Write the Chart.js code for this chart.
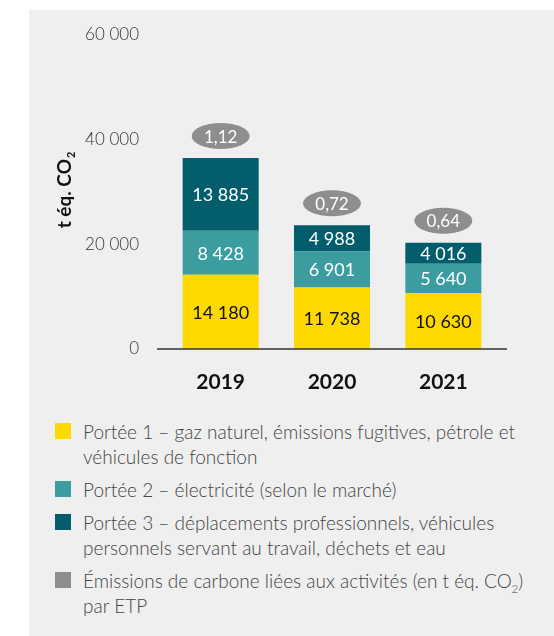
<!DOCTYPE html>
<html>
<head>
<meta charset="utf-8">
<script src="https://cdn.jsdelivr.net/npm/chart.js@4.4.0/dist/chart.umd.min.js"></script>
<style>
  body { margin: 0; background: #fff; font-family: 'Lato', sans-serif; }
  #panel { position: absolute; left: 29px; top: 10px; width: 525px; height: 626px; background: #efefef; }
  #chartBox { position: absolute; left: 0; top: 0; width: 525px; height: 400px; }
  #legend { position: absolute; left: 26px; top: 409px; width: 490px; color: #444; font-size: 19px; font-weight: 300; line-height: 25px; }
  .item { position: relative; padding-left: 28px; margin-bottom: 8px; white-space: nowrap; }
  .sw { position: absolute; left: 0; top: 4px; width: 16px; height: 16px; }
  sub { font-size: 11px; line-height: 0; }
</style>
</head>
<body>
<div id="panel">
  <div id="chartBox"><canvas id="c"></canvas></div>
  <div id="legend"></div>
</div>
<script>
const years = ['2019', '2020', '2021'];
const scope1 = [14180, 11738, 10630];
const scope2 = [8428, 6901, 5640];
const scope3 = [13885, 4988, 4016];
const perFte = ['1,12', '0,72', '0,64'];
const yTicks = [0, 20000, 40000, 60000];

const colors = ['#fdd900', '#3c9da0', '#035d6c'];
const legendItems = [
  { color: '#fdd900', html: 'Portée 1 – gaz naturel, émissions fugitives, pétrole et<br>véhicules de fonction' },
  { color: '#3c9da0', html: 'Portée 2 – électricité (selon le marché)' },
  { color: '#035d6c', html: 'Portée 3 – déplacements professionnels, véhicules<br>personnels servant au travail, déchets et eau' },
  { color: '#8e8e8e', html: 'Émissions de carbone liées aux activités (en t éq. CO<sub>2</sub>)<br>par ETP' }
];

const fmt = v => String(v).replace(/\B(?=(\d{3})+(?!\d))/g, ' ');

document.getElementById('legend').innerHTML = legendItems.map(it =>
  `<div class="item"><span class="sw" style="background:${it.color}"></span>${it.html}</div>`).join('');

// values inside segments, per-FTE ellipses, baseline and the y title
const extrasPlugin = {
  id: 'extras',
  afterDatasetsDraw(chart) {
    const { ctx, chartArea, scales } = chart;
    ctx.save();
    ctx.font = '18px Lato';
    ctx.textAlign = 'center';
    ctx.textBaseline = 'middle';
    chart.data.datasets.forEach((ds, i) => {
      chart.getDatasetMeta(i).data.forEach((el, j) => {
        const { x, y, base } = el.getProps(['x', 'y', 'base'], true);
        ctx.fillStyle = i === 0 ? '#111' : '#fff';
        ctx.fillText(fmt(ds.data[j]), x, (y + base) / 2 + 1);
      });
    });
    const top = chart.getDatasetMeta(2).data;
    top.forEach((el, j) => {
      const cy = el.y - 22;
      ctx.fillStyle = '#8e8e8e';
      ctx.beginPath();
      ctx.ellipse(el.x, cy, 29, 13, 0, 0, Math.PI * 2);
      ctx.fill();
      ctx.fillStyle = '#fff';
      ctx.font = '17px Lato';
      ctx.fillText(perFte[j], el.x, cy + 1);
    });
    const y0 = scales.y.getPixelForValue(0);
    ctx.strokeStyle = '#333';
    ctx.lineWidth = 1.5;
    ctx.beginPath();
    ctx.moveTo(chartArea.left - 8, y0);
    ctx.lineTo(chartArea.right + 8, y0);
    ctx.stroke();
    ctx.translate(36, 180);
    ctx.rotate(-Math.PI / 2);
    ctx.fillStyle = '#111';
    ctx.font = 'bold 19px Lato';
    const main = 't éq. CO';
    const w1 = ctx.measureText(main).width;
    ctx.font = 'bold 11px Lato';
    const w2 = ctx.measureText('2').width;
    const x0 = -(w1 + w2 + 1) / 2;
    ctx.textAlign = 'left';
    ctx.font = 'bold 19px Lato';
    ctx.fillText(main, x0, 0);
    ctx.font = 'bold 11px Lato';
    ctx.fillText('2', x0 + w1 + 1, 6);
    ctx.restore();
  }
};

new Chart(document.getElementById('c'), {
  type: 'bar',
  data: {
    labels: years,
    datasets: [
      { label: 'Portée 1', data: scope1, backgroundColor: colors[0] },
      { label: 'Portée 2', data: scope2, backgroundColor: colors[1] },
      { label: 'Portée 3', data: scope3, backgroundColor: colors[2] }
    ]
  },
  options: {
    responsive: true,
    maintainAspectRatio: false,
    animation: false,
    layout: { padding: { left: 28, right: 55, top: 25, bottom: 0 } },
    datasets: { bar: { barPercentage: 0.683, categoryPercentage: 1 } },
    plugins: { legend: { display: false }, tooltip: { enabled: false } },
    scales: {
      x: {
        stacked: true,
        grid: { display: false, drawTicks: false },
        border: { display: false },
        ticks: { padding: 21, color: '#111', font: { family: 'Lato', size: 21, weight: 'bold' } },
        afterFit: s => { s.height = 61; }
      },
      y: {
        stacked: true,
        min: 0,
        max: 60000,
        afterBuildTicks: s => { s.ticks = yTicks.map(v => ({ value: v })); },
        grid: { display: false, drawTicks: false },
        border: { display: false },
        ticks: { padding: 26, color: '#333', font: { family: 'Lato', size: 17, weight: 300 }, callback: v => fmt(v) },
        afterFit: s => { s.width = 108; s.paddingTop = 0; s.paddingBottom = 0; }
      }
    }
  },
  plugins: [extrasPlugin]
});
</script>
</body>
</html>
